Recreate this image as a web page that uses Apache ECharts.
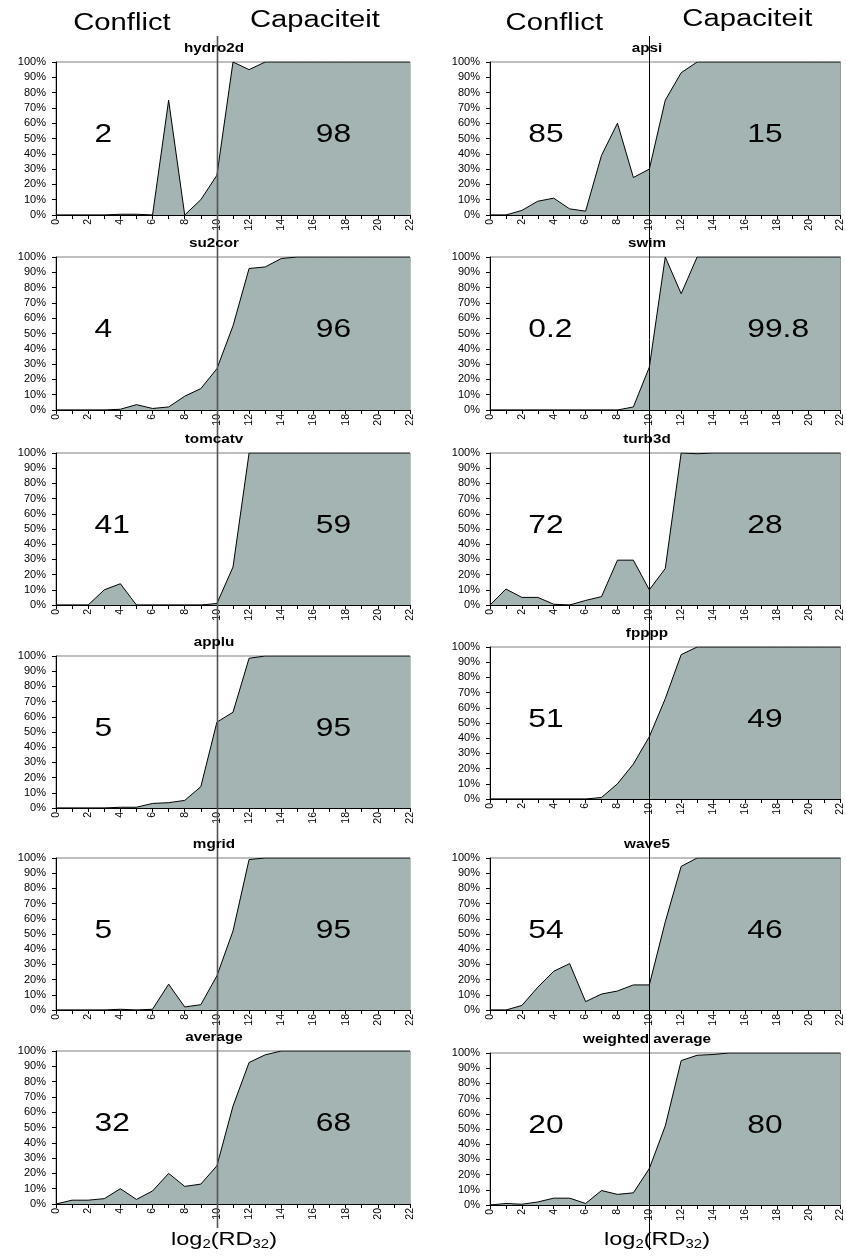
<!DOCTYPE html>
<html><head><meta charset="utf-8">
<script src="https://cdn.jsdelivr.net/npm/echarts@6/dist/echarts.min.js"></script>
<style>html,body{margin:0;padding:0;background:#fff}#c{width:846px;height:1258px}</style>
</head><body><div id="c"></div>
<script>
const xTicks = [0,1,2,3,4,5,6,7,8,9,10,11,12,13,14,15,16,17,18,19,20,21,22];
const hydro2d  = [0,0,0,0,0.5,0.5,0,75,0,10,26,100,95,100,100,100,100,100,100,100,100,100,100];
const apsi     = [0,0,3,9,11,4,2.5,39,60,24.5,30,75,93,100,100,100,100,100,100,100,100,100,100];
const su2cor   = [0,0,0,0,0.5,3.5,1,2,9,14,27,55,92.5,93.5,99,100,100,100,100,100,100,100,100];
const swim     = [0,0,0,0,0,0,0,0,0,2,28,100,76,100,100,100,100,100,100,100,100,100,100];
const tomcatv  = [0,0,0,10,14,0,0,0,0,0,1,25,100,100,100,100,100,100,100,100,100,100,100];
const turb3d   = [0,10.5,5,5,0.5,0,3,5.5,29.5,29.5,10,24,100,99.5,100,100,100,100,100,100,100,100,100];
const applu    = [0,0,0,0,0.5,0.5,3,3.5,5,14,56.5,63,98.5,100,100,100,100,100,100,100,100,100,100];
const fpppp    = [0,0,0,0,0,0,0,1,10,23,41,66,95,100,100,100,100,100,100,100,100,100,100];
const mgrid    = [0,0,0,0,0.5,0,0.5,17,2,3.5,22.5,52,99,100,100,100,100,100,100,100,100,100,100];
const wave5    = [0,0,3,15,25.5,30.5,5.5,10.5,12.5,16.5,16.5,58,94.5,100,100,100,100,100,100,100,100,100,100];
const average  = [0,2.5,2.5,3.5,10,3,8.5,20,11.5,13,25,64,92.5,97.5,100,100,100,100,100,100,100,100,100];
const weightedAverage = [0,1,0.5,2,4.5,4.5,1,9.5,7,8,24,52,95,98.5,99,100,100,100,100,100,100,100,100];

const panelTitles = ['hydro2d','apsi','su2cor','swim','tomcatv','turb3d','applu','fpppp','mgrid','wave5','average','weighted average'];
const panelSeries = [hydro2d, apsi, su2cor, swim, tomcatv, turb3d, applu, fpppp, mgrid, wave5, average, weightedAverage];
const conflictShares = ['2','85','4','0.2','41','72','5','51','5','54','32','20'];
const capacityShares = ['98','15','96','99.8','59','28','95','49','95','46','68','80'];
const headerLeft = 'Conflict';
const headerRight = 'Capaciteit';
const splitAt = 10;

// layout (pixels)
const colLeft = [56, 490];
const colWidth = [354, 352];
const rowTops = [[62,62],[257,257],[453,453],[656,647],[858,858],[1051,1053]];
const rowHeights = [[153,153],[153,153],[152,152],[152,152],[152,152],[153,152]];
const FONT = "'Liberation Sans', Arial, sans-serif";
const FILL = '#a3b4b3';

const grids = [], xAxes = [], yAxes = [], series = [];
panelSeries.forEach((vals, i) => {
  const col = i % 2, row = Math.floor(i / 2);
  grids.push({left: colLeft[col], top: rowTops[row][col], width: colWidth[col], height: rowHeights[row][col],
    show: true, borderColor: '#808080', borderWidth: 1, backgroundColor: 'transparent'});
  xAxes.push({type: 'value', gridIndex: i, min: 0, max: 22, interval: 1,
    axisLine: {show: true, onZero: false, lineStyle: {color: '#000', width: 1}},
    axisTick: {show: true, inside: false, length: 4, lineStyle: {color: '#000'}},
    splitLine: {show: false},
    axisLabel: {show: true, rotate: 90, margin: 4, fontSize: 10.5, fontFamily: FONT, color: '#000',
      formatter: v => (v % 2 === 0 ? String(v) : '')}
  });
  yAxes.push({type: 'value', gridIndex: i, min: 0, max: 100, interval: 10,
    axisLine: {show: true, lineStyle: {color: '#000', width: 1}},
    axisTick: {show: true, inside: false, length: 4, lineStyle: {color: '#000'}},
    splitLine: {show: false},
    axisLabel: {show: true, margin: 10, fontSize: 11, fontFamily: FONT, color: '#000', formatter: '{value}%'}
  });
  series.push({type: 'line', xAxisIndex: i, yAxisIndex: i,
    data: xTicks.map((x, k) => [x, vals[k]]),
    symbol: 'none', silent: true, animation: false,
    lineStyle: {color: '#000', width: 1},
    areaStyle: {color: FILL, opacity: 1}
  });
});

const chart = echarts.init(document.getElementById('c'), null, {renderer: 'canvas'});
chart.setOption({animation: false, backgroundColor: '#fff', grid: grids, xAxis: xAxes, yAxis: yAxes, series: series});

const g = [];
function txt(x, y, text, size, bold, align, scaleX) {
  g.push({type: 'text', x: x, y: y, scaleX: scaleX, z: 100,
    style: {text: text, font: (bold ? 'bold ' : '') + size + 'px ' + FONT, fill: '#000',
      textAlign: align, align: align, textVerticalAlign: 'middle', verticalAlign: 'middle'}});
}
const SX = 1.27;
// column headers
[0, 1].forEach(col => {
  const pS = chart.convertToPixel({gridIndex: col}, [splitAt, 0]);
  const headerOffsets = col === 0 ? [[-95, 24], [98, 20.5]] : [[-95, 24], [98, 20]];
  txt(pS[0] + headerOffsets[0][0], headerOffsets[0][1], headerLeft, 23, false, 'center', SX);
  txt(pS[0] + headerOffsets[1][0], headerOffsets[1][1], headerRight, 23, false, 'center', SX);
});
panelTitles.forEach((t, i) => {
  const col = i % 2, row = Math.floor(i / 2);
  const cx = colLeft[col] + colWidth[col] / 2 - 19;
  txt(cx, rowTops[row][col] - 13, t, 12, true, 'center', SX);
  const pl = chart.convertToPixel({gridIndex: i}, [2.4, 52]);
  const pr = chart.convertToPixel({gridIndex: i}, [16.15, 52]);
  txt(pl[0], pl[1], conflictShares[i], 25, false, 'left', SX);
  txt(pr[0], pr[1], capacityShares[i], 25, false, 'left', SX);
});
// divider lines at x = splitAt
const lineEnds = [1228, 1250];
const lineStyles = [{stroke: '#555', lineWidth: 1.6}, {stroke: '#000', lineWidth: 1}];
[0, 1].forEach(col => {
  const pS = chart.convertToPixel({gridIndex: col}, [splitAt, 0]);
  const x = Math.round(pS[0]) + 0.5;
  g.push({type: 'line', z: 99, shape: {x1: x, y1: 36, x2: x, y2: lineEnds[col]}, style: lineStyles[col]});
  g.push({type: 'text', x: colLeft[col] + colWidth[col] / 2 - 9, y: 1240, scaleX: 1.24, z: 100,
    style: {text: '{m|log}{s|2}{m|(RD}{s|32}{m|)}', fill: '#000', textAlign: 'center', align: 'center',
      textVerticalAlign: 'middle', verticalAlign: 'middle',
      rich: {m: {fontSize: 19, fontFamily: FONT, lineHeight: 22, verticalAlign: 'middle'},
             s: {fontSize: 12, fontFamily: FONT, lineHeight: 22, verticalAlign: 'bottom', padding: [10, 0, 0, 0]}}}});
});
chart.setOption({graphic: {elements: g}});
</script></body></html>
